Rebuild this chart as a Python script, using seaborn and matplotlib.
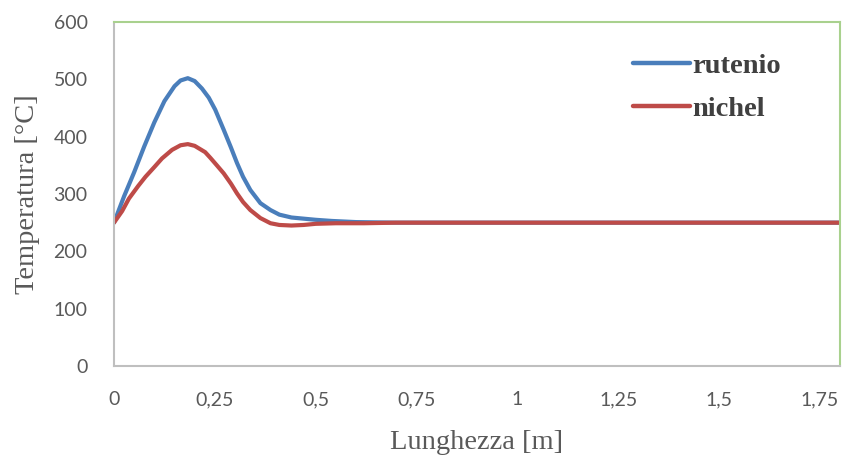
import matplotlib
matplotlib.use("Agg")
import matplotlib.pyplot as plt
import seaborn as sns
import pandas as pd

# Temperature profile along the reactor length for two catalysts
rutenio_x = [0, 0.025, 0.05, 0.075, 0.1, 0.125, 0.15, 0.165, 0.183, 0.2, 0.218,
             0.235, 0.251, 0.272, 0.29, 0.305, 0.32, 0.338, 0.363, 0.388, 0.41,
             0.44, 0.47, 0.5, 0.54, 0.6, 0.7, 0.9, 1.1, 1.3, 1.5, 1.8]
rutenio_y = [250, 296, 338, 383, 425, 462, 488, 498, 502, 497, 484,
             468, 447, 412, 381, 354, 330, 307, 284, 272, 264,
             259, 257, 255, 253, 251, 250, 250, 250, 250, 250, 250]

nichel_x = [0, 0.02, 0.037, 0.06, 0.078, 0.1, 0.119, 0.144, 0.165, 0.183, 0.2,
            0.226, 0.239, 0.255, 0.272, 0.29, 0.305, 0.32, 0.338, 0.363, 0.388,
            0.41, 0.44, 0.47, 0.5, 0.55, 0.62, 0.7, 0.9, 1.1, 1.3, 1.5, 1.8]
nichel_y = [250, 270, 292, 314, 330, 347, 362, 377, 385, 387, 384,
            373, 363, 350, 336, 318, 301, 286, 272, 258, 249,
            246, 245, 246, 248, 249, 249, 250, 250, 250, 250, 250, 250]

series_names = ["rutenio", "nichel"]
series_colors = ["#4A7EBB", "#BE4B48"]

df = pd.concat([
    pd.DataFrame({"x": rutenio_x, "y": rutenio_y, "serie": series_names[0]}),
    pd.DataFrame({"x": nichel_x, "y": nichel_y, "serie": series_names[1]}),
], ignore_index=True)

x_ticks = [0, 0.25, 0.5, 0.75, 1, 1.25, 1.5, 1.75]
x_tick_labels = ["0", "0,25", "0,5", "0,75", "1", "1,25", "1,5", "1,75"]
y_ticks = [0, 100, 200, 300, 400, 500, 600]

sns.set_theme(style="white")
plt.rcParams["font.family"] = ["Lato", "DejaVu Sans"]

fig = plt.figure(figsize=(8.45, 4.62), dpi=100)
ax = fig.add_axes([114 / 845, 96 / 462, 726 / 845, 344 / 462])

sns.lineplot(data=df, x="x", y="y", hue="serie", palette=series_colors,
             hue_order=series_names, linewidth=3, sort=False,
             estimator=None, ax=ax, solid_joinstyle="round",
             solid_capstyle="round")

ax.set_xlim(0, 1.8)
ax.set_ylim(0, 600)
ax.set_xticks(x_ticks)
ax.set_xticklabels(x_tick_labels)
ax.set_yticks(y_ticks)
ax.tick_params(axis="both", length=0, labelsize=14, labelcolor="#595959")
ax.tick_params(axis="x", pad=18)
ax.tick_params(axis="y", pad=19)

serif = ["Liberation Serif", "DejaVu Serif"]
ax.set_xlabel("Lunghezza [m]", fontsize=20.5, color="#595959", family=serif, labelpad=16)
ax.set_ylabel("Temperatura [°C]", fontsize=20.5, color="#595959", family=serif, labelpad=10)

for side in ("left", "bottom"):
    ax.spines[side].set_color("#BFBFBF")
    ax.spines[side].set_linewidth(1.5)
for side in ("top", "right"):
    ax.spines[side].set_color("#A9D18E")
    ax.spines[side].set_linewidth(1.5)

leg = ax.legend(loc="upper right", bbox_to_anchor=(0.954, 0.985), frameon=False,
                handlelength=2.0, handletextpad=0.08, labelspacing=0.6,
                prop={"family": serif, "weight": "bold", "size": 20.5})
for t in leg.get_texts():
    t.set_color("#404040")
for h in leg.get_lines():
    h.set_linewidth(3.2)

fig.savefig("out.png", dpi=100)
